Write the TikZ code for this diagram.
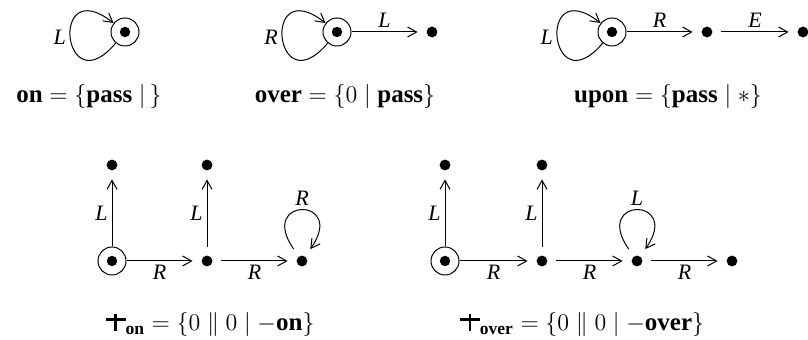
\documentclass[tikz,border=0pt]{standalone}
\usepackage{amsmath,amssymb}
\usepackage{fontspec}
\setmainfont{Liberation Serif}
\usepackage{tikz}
\usetikzlibrary{arrows.meta,positioning}
\newcommand{\tinysign}{\mathord{\text{\rule[0.40em]{0.8em}{0.1em}\kern-0.45em\rule{0.1em}{0.68em}\kern0.35em}}}
\tikzset{
  >={Straight Barb[length=4.5pt,width=5pt]},
  st/.style={circle,draw,line width=0.5pt,minimum size=14pt,inner sep=0pt,
    path picture={\fill (path picture bounding box.center) circle (2.6pt);}},
  dt/.style={circle,fill=black,inner sep=0pt,minimum size=5.4pt,outer sep=4.5pt},
  tr/.style={->,line width=0.5pt},
  trlbl/.style={font=\fontsize{11}{13}\selectfont\itshape,inner sep=2pt},
  eqlbl/.style={font=\fontsize{12.5}{15}\selectfont,inner sep=1pt},
}
\begin{document}
\begin{tikzpicture}[x=0.5pt,y=0.5pt]
  \useasboundingbox (0,0) rectangle (808,340);
  % top row
  \node[st] (on) at (125,308) {};
  \draw[tr] (on) to[out=230,in=142,looseness=10.5] node[trlbl,left] {L} (on);
  \node[eqlbl] (onEq) at (89,243) {$\textbf{on}=\{\textbf{pass}\mid\,\}$};

  \node[st] (over) at (337,308) {};
  \node[dt] (overL) at (432,308) {};
  \draw[tr] (over) to[out=230,in=142,looseness=10.5] node[trlbl,left] {R} (over);
  \draw[tr] (over) -- node[trlbl,above] {L} (overL);
  \node[eqlbl] (overEq) at (345,243) {$\textbf{over}=\{0\mid\textbf{pass}\}$};

  \node[st] (upon) at (612,308) {};
  \node[dt] (uponR) at (707,308) {};
  \node[dt] (uponE) at (803,308) {};
  \draw[tr] (upon) to[out=230,in=142,looseness=10.5] node[trlbl,left] {L} (upon);
  \draw[tr] (upon) -- node[trlbl,above] {R} (uponR);
  \draw[tr] (uponR) -- node[trlbl,above] {E} (uponE);
  \node[eqlbl] (uponEq) at (668,243) {$\textbf{upon}=\{\textbf{pass}\mid *\}$};

  % bottom left
  \node[st] (a0) at (112,79) {};
  \node[dt] (a1) at (207,79) {};
  \node[dt] (a2) at (302,79) {};
  \node[dt] (a0L) at (112,175) {};
  \node[dt] (a1L) at (207,175) {};
  \draw[tr] (a0) -- node[trlbl,left] {L} (a0L);
  \draw[tr] (a1) -- node[trlbl,left] {L} (a1L);
  \draw[tr] (a0) -- node[trlbl,below] {R} (a1);
  \draw[tr] (a1) -- node[trlbl,below] {R} (a2);
  \draw[tr] (a2) to[out=125,in=55,looseness=10] node[trlbl,above] {R} (a2);
  \node[eqlbl] (aEq) at (210,15) {$\tinysign_{\textbf{on}}=\{0\parallel 0\mid -\textbf{on}\}$};

  % bottom right
  \node[st] (b0) at (445,79) {};
  \node[dt] (b1) at (542,79) {};
  \node[dt] (b2) at (637,79) {};
  \node[dt] (b3) at (732,79) {};
  \node[dt] (b0L) at (445,175) {};
  \node[dt] (b1L) at (542,175) {};
  \draw[tr] (b0) -- node[trlbl,left] {L} (b0L);
  \draw[tr] (b1) -- node[trlbl,left] {L} (b1L);
  \draw[tr] (b0) -- node[trlbl,below] {R} (b1);
  \draw[tr] (b1) -- node[trlbl,below] {R} (b2);
  \draw[tr] (b2) -- node[trlbl,below] {R} (b3);
  \draw[tr] (b2) to[out=125,in=55,looseness=10] node[trlbl,above] {L} (b2);
  \node[eqlbl] (bEq) at (582,15) {$\tinysign_{\textbf{over}}=\{0\parallel 0\mid -\textbf{over}\}$};
\end{tikzpicture}
\end{document}
